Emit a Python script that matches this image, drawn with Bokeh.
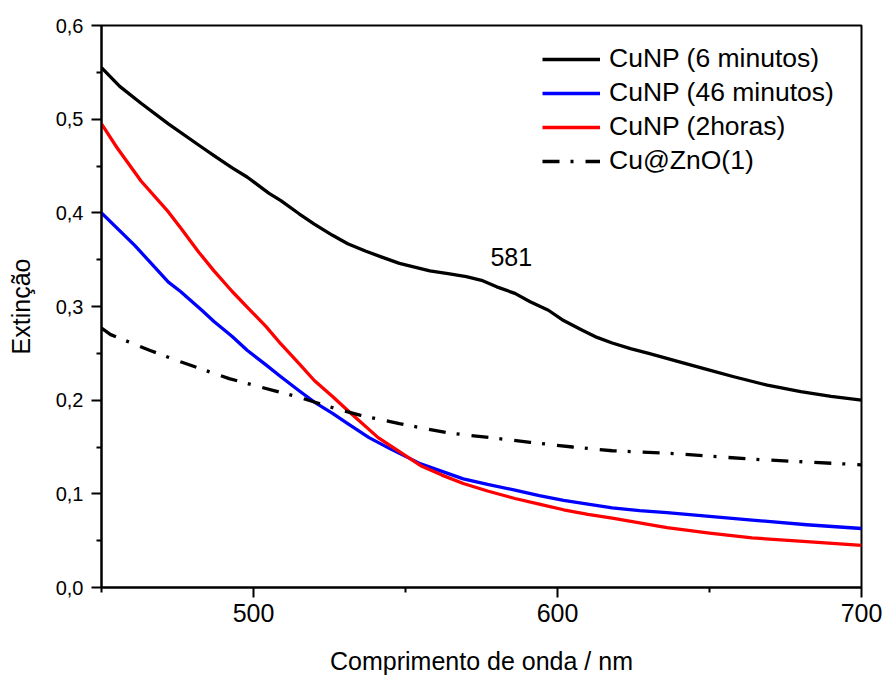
from bokeh.plotting import figure
from bokeh.models import Range1d, FixedTicker, CustomJSTickFormatter, Legend, LegendItem, Label
from bokeh.embed import file_html
from bokeh.resources import INLINE

# ---- data ----
labels = ["CuNP (6 minutos)", "CuNP (46 minutos)", "CuNP (2horas)", "Cu@ZnO(1)"]

x_6min = [450, 456, 463, 472, 483, 487, 493, 498, 505, 509, 515, 520, 526, 531, 537, 542, 548, 553, 558, 564,
          570, 575, 580, 586, 591, 597, 602, 608, 613, 618, 624, 630, 641, 650, 658, 669, 680, 690, 700]
y_6min = [0.555, 0.535, 0.517, 0.495, 0.470, 0.461, 0.448, 0.438, 0.421, 0.413, 0.399, 0.388, 0.376, 0.367,
          0.359, 0.353, 0.346, 0.342, 0.338, 0.335, 0.332, 0.328, 0.321, 0.314, 0.305, 0.296, 0.285, 0.275,
          0.267, 0.261, 0.255, 0.250, 0.240, 0.232, 0.225, 0.216, 0.209, 0.204, 0.200]

x_46min = [450, 461, 472, 476, 483, 487, 493, 498, 504, 509, 515, 520, 526, 531, 538, 545, 550, 555, 562, 569,
           577, 586, 594, 602, 610, 618, 627, 636, 650, 664, 682, 700]
y_46min = [0.400, 0.365, 0.326, 0.316, 0.296, 0.284, 0.268, 0.253, 0.238, 0.225, 0.210, 0.198, 0.186, 0.175,
           0.160, 0.148, 0.140, 0.132, 0.124, 0.116, 0.110, 0.104, 0.098, 0.093, 0.089, 0.085, 0.082, 0.080,
           0.076, 0.072, 0.067, 0.063]

x_2h = [450, 455, 463, 472, 476, 482, 487, 493, 498, 504, 509, 515, 520, 526, 531, 541, 548, 555, 562, 569,
        577, 586, 594, 602, 610, 618, 627, 636, 650, 664, 682, 700]
y_2h = [0.495, 0.470, 0.434, 0.401, 0.384, 0.358, 0.338, 0.316, 0.299, 0.279, 0.260, 0.239, 0.221, 0.204,
        0.189, 0.160, 0.145, 0.130, 0.120, 0.111, 0.103, 0.095, 0.089, 0.083, 0.078, 0.074, 0.069, 0.064,
        0.058, 0.053, 0.049, 0.045]

x_zno = [450, 453, 466, 476, 484, 492, 500, 507, 514, 520, 528, 535, 548, 564, 578, 591, 605, 618, 638, 664, 682, 700]
y_zno = [0.277, 0.270, 0.253, 0.241, 0.232, 0.223, 0.216, 0.210, 0.204, 0.198, 0.190, 0.184, 0.175, 0.165,
         0.160, 0.155, 0.150, 0.146, 0.143, 0.137, 0.134, 0.131]

x_ticks = [500, 600, 700]
x_minor = [450, 550, 650]
y_ticks = [0.0, 0.1, 0.2, 0.3, 0.4, 0.5, 0.6]
y_minor = [0.05, 0.15, 0.25, 0.35, 0.45, 0.55]

peak_label = "581"
peak_x = 584.8
peak_y = 0.353

FONT = "Liberation Sans"

p = figure(width=884, height=680, output_backend="svg", toolbar_location=None,
           x_range=Range1d(450, 700), y_range=Range1d(0, 0.6),
           min_border_left=101, min_border_right=23, min_border_top=25, min_border_bottom=93)
p.background_fill_color = "white"
p.border_fill_color = "white"
p.xgrid.visible = False
p.ygrid.visible = False
p.outline_line_color = "black"
p.outline_line_width = 2

LW = 3.3
r1 = p.line(x_6min, y_6min, line_color="black", line_width=LW, line_join="round")
r2 = p.line(x_46min, y_46min, line_color="#0000ff", line_width=LW, line_join="round")
r3 = p.line(x_2h, y_2h, line_color="#ff0000", line_width=LW, line_join="round")
r4 = p.line(x_zno, y_zno, line_color="black", line_width=LW, line_dash="17 11 3 12")

for ax in (p.xaxis[0], p.yaxis[0]):
    ax.axis_line_width = 2
    ax.axis_line_color = "black"
    ax.major_tick_line_width = 2
    ax.minor_tick_line_width = 2
    ax.major_tick_out = 10
    ax.major_tick_in = 0
    ax.minor_tick_out = 5
    ax.minor_tick_in = 0
    ax.major_label_text_font = FONT
    ax.major_label_text_color = "black"
    ax.axis_label_text_font = FONT
    ax.axis_label_text_font_style = "normal"
    ax.axis_label_text_color = "black"
    ax.axis_label_text_font_size = "25px"

p.xaxis[0].ticker = FixedTicker(ticks=x_ticks, minor_ticks=x_minor)
p.yaxis[0].ticker = FixedTicker(ticks=y_ticks, minor_ticks=y_minor)
p.yaxis[0].formatter = CustomJSTickFormatter(code="return tick.toFixed(1).replace('.', ',');")
p.xaxis[0].major_label_text_font_size = "25px"
p.yaxis[0].major_label_text_font_size = "20px"
p.xaxis[0].major_label_standoff = 6
p.yaxis[0].major_label_standoff = 8
p.xaxis[0].axis_label = "Comprimento de onda / nm"
p.yaxis[0].axis_label = "Extinção"
p.xaxis[0].axis_label_standoff = 22
p.yaxis[0].axis_label_standoff = 18

legend = Legend(items=[LegendItem(label=labels[0], renderers=[r1]),
                       LegendItem(label=labels[1], renderers=[r2]),
                       LegendItem(label=labels[2], renderers=[r3]),
                       LegendItem(label=labels[3], renderers=[r4])],
                location=(441, 411))
legend.border_line_color = None
legend.background_fill_alpha = 0
legend.padding = 0
legend.margin = 0
legend.spacing = 3
legend.glyph_width = 58
legend.glyph_height = 30
legend.label_height = 30
legend.label_standoff = 9
legend.label_text_font = FONT
legend.label_text_font_size = "26.5px"
legend.label_text_color = "black"
p.add_layout(legend)

p.add_layout(Label(x=peak_x, y=peak_y, text=peak_label, text_font=FONT, text_font_size="25px",
                   text_align="center", text_baseline="middle", text_color="black"))

open("out.html", "w").write(file_html(p, INLINE))
